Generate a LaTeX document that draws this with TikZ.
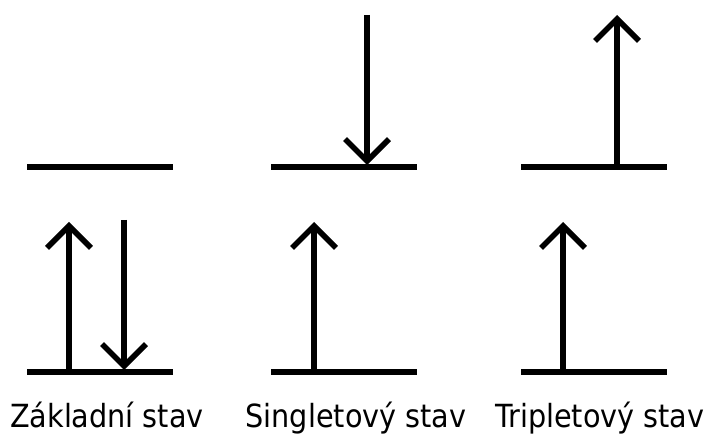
\documentclass[tikz,border=0pt]{standalone}
\usepackage{fontspec}
\setmainfont{DejaVu Sans Condensed}
\usetikzlibrary{arrows.meta}
\begin{document}
\begin{tikzpicture}[x=1bp,y=-1bp,
  level/.style={line width=6bp},
  spin/.style={line width=5.5bp,-{Straight Barb[length=22bp,width=44bp]}},
  caption/.style={anchor=base,font=\fontsize{32}{36}\selectfont,inner sep=0pt}]
\useasboundingbox (0,0) rectangle (709,435);
% energy levels: lower and upper orbital in each column
\foreach \n/\x in {a/27,b/271,c/521}{
  \coordinate (\n lo1) at (\x,372);
  \coordinate (\n lo2) at (\x+146,372);
  \coordinate (\n hi1) at (\x,167);
  \coordinate (\n hi2) at (\x+146,167);
  \draw[level] (\n lo1) -- (\n lo2);
  \draw[level] (\n hi1) -- (\n hi2);
}
% spin arrows
\coordinate (a1s) at (69,372);  \coordinate (a1e) at (69,222);
\coordinate (a2s) at (124,220); \coordinate (a2e) at (124,370);
\coordinate (b1s) at (314,372); \coordinate (b1e) at (314,222);
\coordinate (b2s) at (367,15);  \coordinate (b2e) at (367,165);
\coordinate (c1s) at (563,372); \coordinate (c1e) at (563,222);
\coordinate (c2s) at (617,167); \coordinate (c2e) at (617,15);
\draw[spin] (a1s) -- (a1e);
\draw[spin] (a2s) -- (a2e);
\draw[spin] (b1s) -- (b1e);
\draw[spin] (b2s) -- (b2e);
\draw[spin] (c1s) -- (c1e);
\draw[spin] (c2s) -- (c2e);
% captions
\node[caption] (ta) at (107,427) {Základní stav};
\node[caption] (tb) at (356,427) {Singletový stav};
\node[caption] (tc) at (600,427) {Tripletový stav};
\end{tikzpicture}
\end{document}
